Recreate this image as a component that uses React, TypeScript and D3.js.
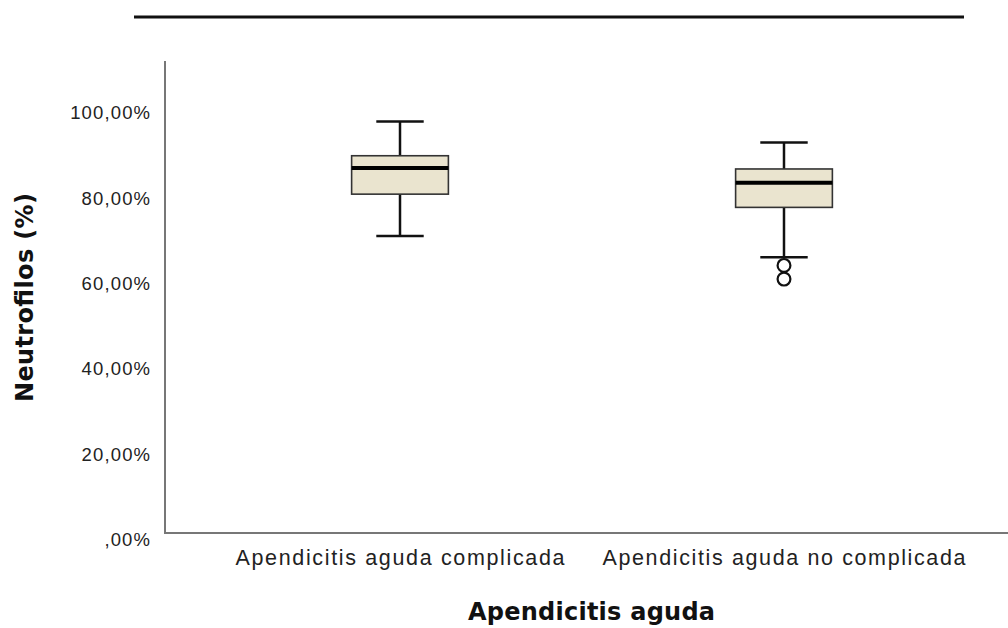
import React from 'react'
import * as d3 from 'd3'

// categories and box statistics (percent)
const categories = ['Apendicitis aguda complicada', 'Apendicitis aguda no complicada']
const whiskerLow = [69.6, 64.6]
const q1 = [79.4, 76.3]
const median = [85.5, 82.1]
const q3 = [88.4, 85.3]
const whiskerHigh = [96.4, 91.5]
const outliers = [[], [62.7, 59.5]]
const yTicks = [0, 20, 40, 60, 80, 100]
const yTickLabels = [',00%', '20,00%', '40,00%', '60,00%', '80,00%', '100,00%']
const catLabelWidths = [329, 363]

const W = 1008
const H = 628
const font = '"Liberation Sans", Arial, sans-serif'
const titleFont = '"DejaVu Sans", Verdana, sans-serif'

export default function App() {
  const axisX = 165
  const axisBottom = 533
  const axisTop = 61

  const y = d3.scaleLinear().domain([0, 110.6]).range([axisBottom, axisTop])
  const x = d3.scalePoint<string>().domain(categories).range([165, 1019]).padding(0.612)
  const boxW = x.step() * 0.252
  const capW = boxW * 0.49

  return (
    <svg width={W} height={H} style={{ position: 'absolute', left: 0, top: 0, background: '#fff' }}>
      <rect width={W} height={H} fill='#fff' />
      <line x1={134} x2={964} y1={17} y2={17} stroke='#111' strokeWidth={3} />

      {/* axes */}
      <line x1={axisX} x2={axisX} y1={axisTop} y2={axisBottom} stroke='#777' strokeWidth={2} />
      <line x1={axisX - 1} x2={W} y1={axisBottom} y2={axisBottom} stroke='#777' strokeWidth={2} />

      {yTicks.map((t, i) => (
        <text key={t} x={150} y={y(t) + 13} textAnchor='end' fontFamily={font} fontSize={18.5}
          fill='#222' textLength={yTickLabels[i].length * 11.4} lengthAdjust='spacing'>
          {yTickLabels[i]}
        </text>
      ))}

      {categories.map((c, i) => (
        <text key={c} x={x(c)! - catLabelWidths[i] / 2} y={565} fontFamily={font} fontSize={21.5}
          fill='#222' textLength={catLabelWidths[i]} lengthAdjust='spacing'>
          {c}
        </text>
      ))}

      <text x={468} y={620} fontFamily={titleFont} fontSize={24} fontWeight='bold' fill='#111'
        textLength={247} lengthAdjust='spacing'>Apendicitis aguda</text>
      <text transform='translate(33,402) rotate(-90)' fontFamily={titleFont} fontSize={24} fontWeight='bold'
        fill='#111' textLength={209} lengthAdjust='spacing'>Neutrofilos (%)</text>

      {/* boxes */}
      {categories.map((c, i) => {
        const cx = x(c)!
        return (
          <g key={c}>
            <line x1={cx} x2={cx} y1={y(whiskerHigh[i])} y2={y(q3[i])} stroke='#111' strokeWidth={2.5} />
            <line x1={cx} x2={cx} y1={y(q1[i])} y2={y(whiskerLow[i])} stroke='#111' strokeWidth={2.5} />
            <line x1={cx - capW / 2} x2={cx + capW / 2} y1={y(whiskerHigh[i])} y2={y(whiskerHigh[i])} stroke='#111' strokeWidth={2.5} />
            <line x1={cx - capW / 2} x2={cx + capW / 2} y1={y(whiskerLow[i])} y2={y(whiskerLow[i])} stroke='#111' strokeWidth={2.5} />
            <rect x={cx - boxW / 2} y={y(q3[i])} width={boxW} height={y(q1[i]) - y(q3[i])}
              fill='#eae4cf' stroke='#333' strokeWidth={1.6} />
            <line x1={cx - boxW / 2} x2={cx + boxW / 2} y1={y(median[i])} y2={y(median[i])} stroke='#000' strokeWidth={4} />
            {outliers[i].map((o, k) => (
              <circle key={k} cx={cx} cy={y(o)} r={6.4} fill='#fff' stroke='#111' strokeWidth={2.2} />
            ))}
          </g>
        )
      })}
    </svg>
  )
}
